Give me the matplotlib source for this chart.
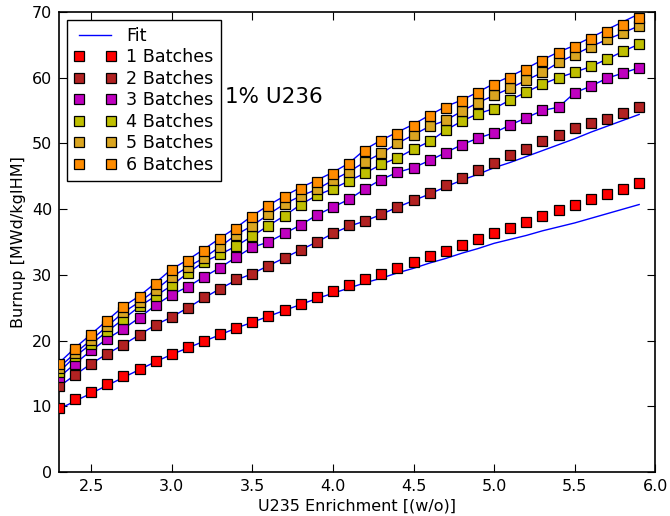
import matplotlib
matplotlib.use("Agg")
import matplotlib.pyplot as plt
import numpy as np

enrichment = [2.3, 2.4, 2.5, 2.6, 2.7, 2.8, 2.9, 3.0, 3.1, 3.2, 3.3, 3.4, 3.5, 3.6,
              3.7, 3.8, 3.9, 4.0, 4.1, 4.2, 4.3, 4.4, 4.5, 4.6, 4.7, 4.8, 4.9, 5.0,
              5.1, 5.2, 5.3, 5.4, 5.5, 5.6, 5.7, 5.8, 5.9]

bu_1 = [9.8, 11.1, 12.2, 13.4, 14.6, 15.7, 16.9, 17.9, 19.0, 20.0, 21.0, 21.9, 22.8, 23.7,
        24.6, 25.6, 26.6, 27.5, 28.4, 29.3, 30.2, 31.1, 32.0, 32.8, 33.7, 34.6, 35.4, 36.3,
        37.2, 38.0, 38.9, 39.9, 40.6, 41.5, 42.3, 43.1, 44.0]
bu_2 = [13.1, 14.8, 16.5, 18.0, 19.4, 20.9, 22.4, 23.6, 25.0, 26.6, 27.9, 29.3, 30.1, 31.3,
        32.6, 33.8, 35.0, 36.4, 37.6, 38.2, 39.2, 40.3, 41.4, 42.4, 43.6, 44.7, 45.9, 47.0,
        48.2, 49.2, 50.3, 51.3, 52.4, 53.1, 53.7, 54.6, 55.6]
bu_3 = [14.4, 16.5, 18.5, 20.3, 21.8, 23.5, 25.4, 27.0, 28.2, 29.7, 31.1, 32.7, 34.2, 35.0,
        36.3, 37.6, 39.1, 40.3, 41.5, 43.1, 44.5, 45.6, 46.3, 47.4, 48.6, 49.8, 50.8, 51.6,
        52.8, 53.9, 55.0, 55.5, 57.7, 58.7, 59.9, 60.7, 61.5]
bu_4 = [15.2, 17.6, 19.5, 21.4, 23.3, 25.2, 26.8, 28.4, 30.3, 32.0, 33.1, 34.4, 35.9, 37.5,
        39.0, 40.7, 42.1, 43.1, 44.3, 45.5, 46.8, 47.8, 49.1, 50.3, 52.0, 53.4, 54.5, 55.3,
        56.6, 57.8, 59.0, 60.0, 60.8, 61.7, 62.8, 64.0, 65.1]
bu_5 = [15.9, 18.1, 20.1, 22.2, 24.3, 25.9, 27.7, 29.7, 31.2, 32.6, 34.3, 36.1, 37.5, 39.2,
        40.8, 42.0, 43.0, 44.4, 45.7, 47.2, 48.5, 50.0, 51.3, 52.6, 53.5, 54.9, 56.2, 57.3,
        58.4, 59.6, 60.8, 62.3, 63.5, 64.7, 65.8, 66.8, 67.9]
bu_6 = [16.5, 18.8, 20.9, 23.0, 25.1, 26.6, 28.6, 30.7, 32.1, 33.7, 35.4, 37.0, 38.8, 40.4,
        41.8, 43.1, 44.2, 45.4, 46.8, 48.9, 50.3, 51.5, 52.7, 54.1, 55.4, 56.4, 57.6, 58.9,
        60.0, 61.2, 62.5, 63.7, 64.7, 65.8, 66.9, 68.0, 69.1]

fit_1 = [9.6, 10.8, 12.0, 13.2, 14.4, 15.6, 16.8, 17.9, 18.9, 19.9, 20.9, 21.9, 22.8, 23.7,
         24.6, 25.5, 26.4, 27.2, 28.0, 28.8, 29.5, 30.3, 31.0, 31.8, 32.5, 33.3, 34.0, 34.8,
         35.4, 36.0, 36.7, 37.3, 37.9, 38.6, 39.3, 40.0, 40.7]
fit_2 = [13.0, 14.8, 16.5, 18.0, 19.4, 20.9, 22.4, 23.6, 25.0, 26.5, 27.9, 29.2, 30.2, 31.4,
         32.6, 33.8, 35.0, 36.3, 37.4, 38.2, 39.2, 40.3, 41.3, 42.3, 43.4, 44.4, 45.3, 46.3,
         47.1, 48.0, 48.9, 49.8, 50.7, 51.7, 52.6, 53.5, 54.4]
fit_3 = bu_3
fit_4 = bu_4
fit_5 = bu_5
fit_6 = [16.6, 18.9, 21.0, 23.1, 25.2, 26.8, 28.8, 30.9, 32.3, 33.9, 35.6, 37.2, 39.0, 40.6,
         42.0, 43.3, 44.4, 45.6, 47.0, 49.1, 50.5, 51.7, 52.9, 54.3, 55.6, 56.6, 57.8, 59.1,
         60.2, 61.4, 62.7, 63.9, 64.9, 66.1, 67.3, 68.5, 69.7]

labels = ["1 Batches", "2 Batches", "3 Batches", "4 Batches", "5 Batches", "6 Batches"]
colors = ["#FF0000", "#B22222", "#BF00BF", "#BFBF00", "#DAA520", "#FF8C00"]
series = [bu_1, bu_2, bu_3, bu_4, bu_5, bu_6]
fits = [fit_1, fit_2, fit_3, fit_4, fit_5, fit_6]

fig = plt.figure(figsize=(6.7, 5.16), dpi=100)
ax = fig.add_axes([0.088, 0.085, 0.89, 0.892])

fit_handle = None
for fv in fits:
    l, = ax.plot(enrichment, fv, color="#0000FF", lw=1.0, zorder=2)
    fit_handle = l
fit_handle.set_label("Fit")

handles = [fit_handle]
for vals, c, lab in zip(series, colors, labels):
    h, = ax.plot(enrichment, vals, linestyle="none", marker="s", markersize=7.4,
                 markerfacecolor=c, markeredgecolor="black", markeredgewidth=0.9,
                 label=lab, zorder=3)
    handles.append(h)

ax.set_xlim(2.3, 6.0)
ax.set_ylim(0, 70)
ax.set_xticks([2.5, 3.0, 3.5, 4.0, 4.5, 5.0, 5.5, 6.0])
ax.set_yticks([0, 10, 20, 30, 40, 50, 60, 70])
ax.tick_params(direction="in", top=True, right=True, length=6, width=0.8,
               labelsize=11.5, pad=5)
for sp in ax.spines.values():
    sp.set_linewidth(1.2)

ax.set_xlabel("U235 Enrichment [(w/o)]", fontsize=11.5, labelpad=3)
ax.set_ylabel("Burnup [MWd/kgIHM]", fontsize=11.5)

ax.text(3.33, 57.0, "1% U236", fontsize=15.5, va="center", ha="left")

leg = ax.legend(handles=handles, loc="upper left", numpoints=2, fontsize=12.6,
                fancybox=False, framealpha=1, edgecolor="black",
                borderpad=0.4, labelspacing=0.2, handlelength=2.4, handletextpad=0.6,
                borderaxespad=0.45)
leg.get_frame().set_linewidth(1.0)

fig.savefig("out.png", dpi=100)
